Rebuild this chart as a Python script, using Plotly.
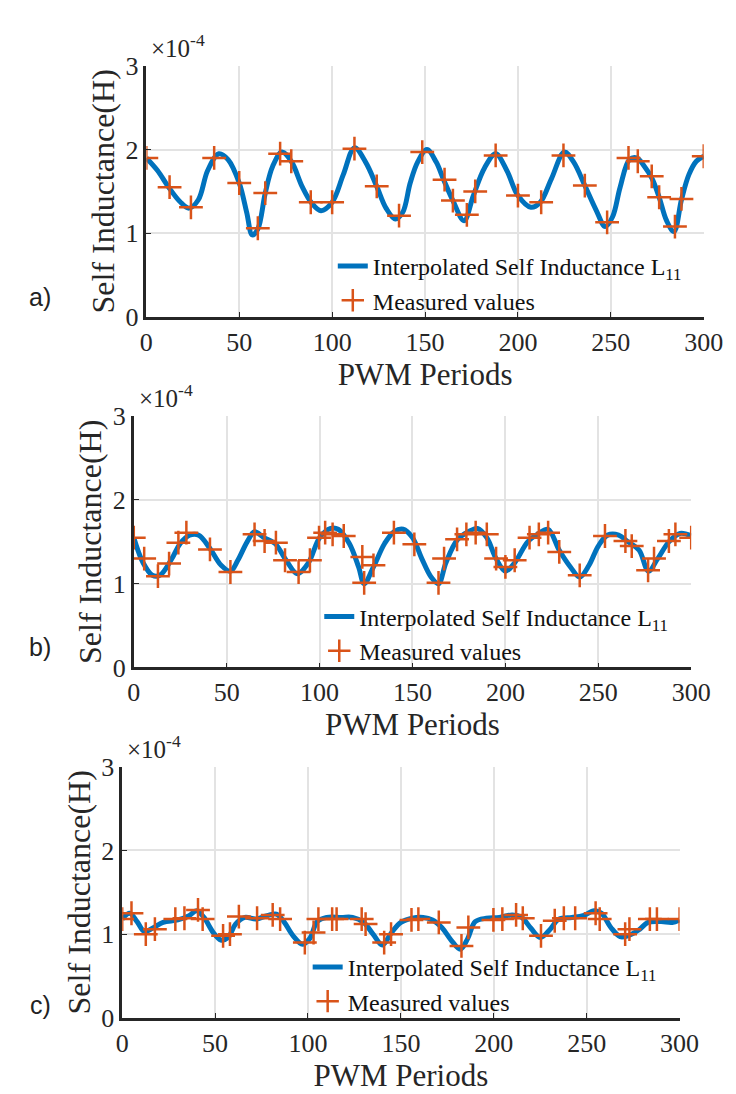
import plotly.graph_objects as go
from plotly.subplots import make_subplots

# values in units of 1e-4 H (axis shows x10^-4 like the original)
a_meas_x = [0, 12.5, 24, 36.5, 50, 60, 64, 72, 78, 88.5, 100, 112, 124, 136, 148.5, 160.5,
            165, 172.5, 177, 188, 200, 212.5, 224.5, 236, 248, 259.5, 264.5, 272, 276, 284.5, 288, 300]
a_meas_y = [1.90, 1.55, 1.31, 1.90, 1.60, 1.06, 1.48, 1.95, 1.86, 1.37, 1.37, 2.01, 1.56, 1.21, 1.97, 1.64,
            1.39, 1.22, 1.50, 1.93, 1.45, 1.37, 1.93, 1.57, 1.13, 1.90, 1.86, 1.68, 1.43, 1.08, 1.41, 1.92]
a_curve_x = [0, 6, 12, 18, 23, 28, 33, 39, 44, 50, 54, 57, 60, 64, 68, 73, 78, 84, 89, 94, 100,
             106, 112, 118, 124, 129, 134, 138, 142, 146, 151, 156, 160, 165, 171, 176, 182,
             188, 194, 200, 207, 212, 218, 225, 230, 236, 242, 247, 251, 255, 260, 264, 268, 272,
             276, 280, 284, 288, 292, 296, 300]
a_curve_y = [1.90, 1.75, 1.55, 1.38, 1.30, 1.40, 1.75, 1.95, 1.88, 1.60, 1.25, 0.98, 1.05, 1.48, 1.80,
             1.97, 1.86, 1.55, 1.36, 1.27, 1.37, 1.70, 2.02, 1.85, 1.56, 1.30, 1.17, 1.25, 1.60, 1.85,
             2.00, 1.85, 1.64, 1.39, 1.15, 1.45, 1.78, 1.95, 1.75, 1.45, 1.31, 1.37, 1.65, 1.97,
             1.85, 1.57, 1.28, 1.08, 1.20, 1.55, 1.88, 1.90, 1.80, 1.66, 1.43, 1.15, 1.02, 1.40, 1.70,
             1.86, 1.92]

b_meas_x = [0, 5.6, 13, 19, 24, 28.3, 41, 52, 65, 70.4, 76.5, 81.4, 88.7, 94.8, 99.7, 103, 107, 113,
            123, 124, 129, 140, 151, 164, 167, 174, 179, 184, 190, 195, 200, 205, 213, 218, 223, 229,
            240, 253.6, 264.6, 268, 276.8, 280, 288, 291.5, 300]
b_meas_y = [1.55, 1.30, 1.09, 1.24, 1.49, 1.61, 1.41, 1.14, 1.59, 1.51, 1.49, 1.28, 1.14, 1.28, 1.55,
            1.61, 1.59, 1.57, 1.32, 1.01, 1.22, 1.61, 1.47, 1.01, 1.30, 1.53, 1.59, 1.61, 1.59, 1.30,
            1.20, 1.28, 1.55, 1.59, 1.61, 1.38, 1.10, 1.57, 1.51, 1.45, 1.16, 1.30, 1.51, 1.59, 1.55]
b_curve_x = [0, 5, 10, 14, 20, 25, 30, 35, 41, 47, 52, 56, 61, 65, 70, 76, 82, 88, 94, 100, 106, 110,
             116, 121, 124, 129, 135, 140, 145, 150, 155, 160, 164, 168, 174, 180, 185, 190, 195, 200,
             205, 212, 218, 223, 229, 235, 240, 245, 250, 255, 261, 266, 272, 277, 282, 288, 294, 300]
b_curve_y = [1.55, 1.25, 1.10, 1.10, 1.28, 1.48, 1.58, 1.58, 1.42, 1.22, 1.15, 1.28, 1.50, 1.62, 1.55,
             1.48, 1.28, 1.12, 1.25, 1.55, 1.66, 1.65, 1.48, 1.20, 1.00, 1.20, 1.48, 1.62, 1.65, 1.55,
             1.30, 1.08, 1.00, 1.25, 1.52, 1.62, 1.66, 1.55, 1.30, 1.15, 1.25, 1.50, 1.60, 1.65, 1.40,
             1.20, 1.08, 1.22, 1.45, 1.58, 1.58, 1.50, 1.40, 1.15, 1.30, 1.50, 1.60, 1.57]

c_meas_x = [0, 5, 12.7, 17.6, 28.6, 33.5, 40.8, 43.3, 54.3, 58, 62.8, 72.6, 81, 85, 98.3, 103, 105.6,
            113, 115.4, 128.9, 131, 141, 144.7, 155.7, 159.4, 170.4, 182.6, 186.3, 199.8, 204.6, 212,
            215.6, 225.4, 232.8, 237.7, 243.8, 254.8, 257, 270.7, 273, 284, 287.8, 300]
c_meas_y = [1.18, 1.25, 1.00, 1.06, 1.18, 1.19, 1.29, 1.18, 0.98, 1.00, 1.21, 1.19, 1.23, 1.18, 0.90,
            1.02, 1.18, 1.18, 1.18, 1.18, 1.12, 0.90, 1.00, 1.17, 1.18, 1.14, 0.86, 1.08, 1.17, 1.18,
            1.23, 1.19, 0.98, 1.16, 1.19, 1.19, 1.25, 1.18, 1.00, 1.06, 1.18, 1.18, 1.18]
c_curve_x = [0, 4, 8, 12, 17, 22, 30, 36, 40, 44, 49, 53, 57, 61, 66, 72, 78, 83, 87, 92, 97, 101, 105,
             110, 118, 124, 130, 135, 140, 145, 150, 156, 162, 167, 172, 177, 182, 186, 190, 196, 203,
             210, 215, 220, 225, 230, 235, 242, 248, 254, 258, 263, 268, 272, 278, 283, 290, 296, 300]
c_curve_y = [1.18, 1.25, 1.15, 1.03, 1.08, 1.14, 1.17, 1.22, 1.28, 1.20, 1.02, 0.93, 0.96, 1.12, 1.20,
             1.18, 1.22, 1.24, 1.15, 0.98, 0.88, 0.95, 1.15, 1.20, 1.20, 1.20, 1.14, 1.00, 0.87, 1.02,
             1.14, 1.19, 1.20, 1.17, 1.08, 0.93, 0.82, 0.95, 1.15, 1.19, 1.20, 1.23, 1.20, 1.07, 0.96,
             1.05, 1.18, 1.20, 1.22, 1.28, 1.25, 1.08, 0.97, 0.98, 1.05, 1.14, 1.15, 1.14, 1.17]

panel_labels = ["a)", "b)", "c)"]
x_ticks = [0, 50, 100, 150, 200, 250, 300]
y_ticks = [0, 1, 2, 3]

BLUE = "#0072BD"
ORANGE = "#D95319"
AXC = "#262626"
SERIF = "Liberation Serif"
W, H = 736, 1094

# pixel boxes of each axes: (left, right, top, bottom)
boxes = [(137, 714, 45, 303), (124, 701, 405, 663), (112, 689, 765, 1023)]

data = [(a_curve_x, a_curve_y, a_meas_x, a_meas_y),
        (b_curve_x, b_curve_y, b_meas_x, b_meas_y),
        (c_curve_x, c_curve_y, c_meas_x, c_meas_y)]

fig = make_subplots(rows=3, cols=1)
legend_names = ["legend", "legend2", "legend3"]

for i, (cx, cy, mx, my) in enumerate(data):
    r = i + 1
    fig.add_trace(go.Scatter(x=cx, y=cy, mode="lines", line=dict(color=BLUE, width=5, shape="spline", smoothing=1.0),
                             name="Interpolated Self Inductance L<sub>11</sub>", legend=legend_names[i]), row=r, col=1)
    fig.add_trace(go.Scatter(x=mx, y=my, mode="markers",
                             marker=dict(symbol="cross-thin", size=17, line=dict(color=ORANGE, width=2.5)),
                             name="Measured values", legend=legend_names[i]), row=r, col=1)

    l, rt, t, b = boxes[i]
    fig.update_xaxes(domain=[l / W, rt / W], range=[0, 300], tickvals=x_ticks, row=r, col=1,
                     title=dict(text="PWM Periods", font=dict(family=SERIF, size=31, color=AXC), standoff=2),
                     showgrid=True, gridcolor="#e3e3e3", gridwidth=1.5, showline=True, linecolor=AXC, linewidth=2.5,
                     ticks="inside", ticklen=5, tickcolor=AXC, tickfont=dict(family=SERIF, size=26, color=AXC),
                     zeroline=False)
    fig.update_yaxes(domain=[1 - b / H, 1 - t / H], range=[0, 3], tickvals=y_ticks, row=r, col=1,
                     title=dict(text="Self Inductance(H)", font=dict(family=SERIF, size=32, color=AXC), standoff=2),
                     showgrid=True, gridcolor="#e3e3e3", gridwidth=1.5, showline=True, linecolor=AXC, linewidth=2.5,
                     ticks="inside", ticklen=5, tickcolor=AXC, tickfont=dict(family=SERIF, size=26, color=AXC),
                     zeroline=False)

    # exponent label over the y axis
    fig.add_annotation(text="\u00d710<sup>-4</sup>", xref="paper", yref="paper", x=(l + 3) / W, y=1 - (t - 2) / H,
                       xanchor="left", yanchor="bottom", showarrow=False,
                       font=dict(family=SERIF, size=25, color=AXC))
    # panel letter
    lab_y = [282, 642, 1010][i]
    fig.add_annotation(text=panel_labels[i], xref="paper", yref="paper", x=27 / W, y=1 - lab_y / H,
                       xanchor="center", yanchor="middle", showarrow=False,
                       font=dict(family="Liberation Sans", size=25, color="#222222"))

leg_left = [330, 316, 304]
leg_top = [228, 588, 948]
legends = {}
for i, name in enumerate(legend_names):
    legends[name] = dict(x=leg_left[i] / W, y=1 - leg_top[i] / H, xanchor="left", yanchor="top",
                         bgcolor="rgba(0,0,0,0)", borderwidth=0, itemwidth=30,
                         font=dict(family=SERIF, size=24, color="#111111"))

fig.update_layout(width=W, height=H, margin=dict(l=0, r=0, t=0, b=0),
                  plot_bgcolor="white", paper_bgcolor="white", showlegend=True, **legends)

fig.write_html("out.html")
